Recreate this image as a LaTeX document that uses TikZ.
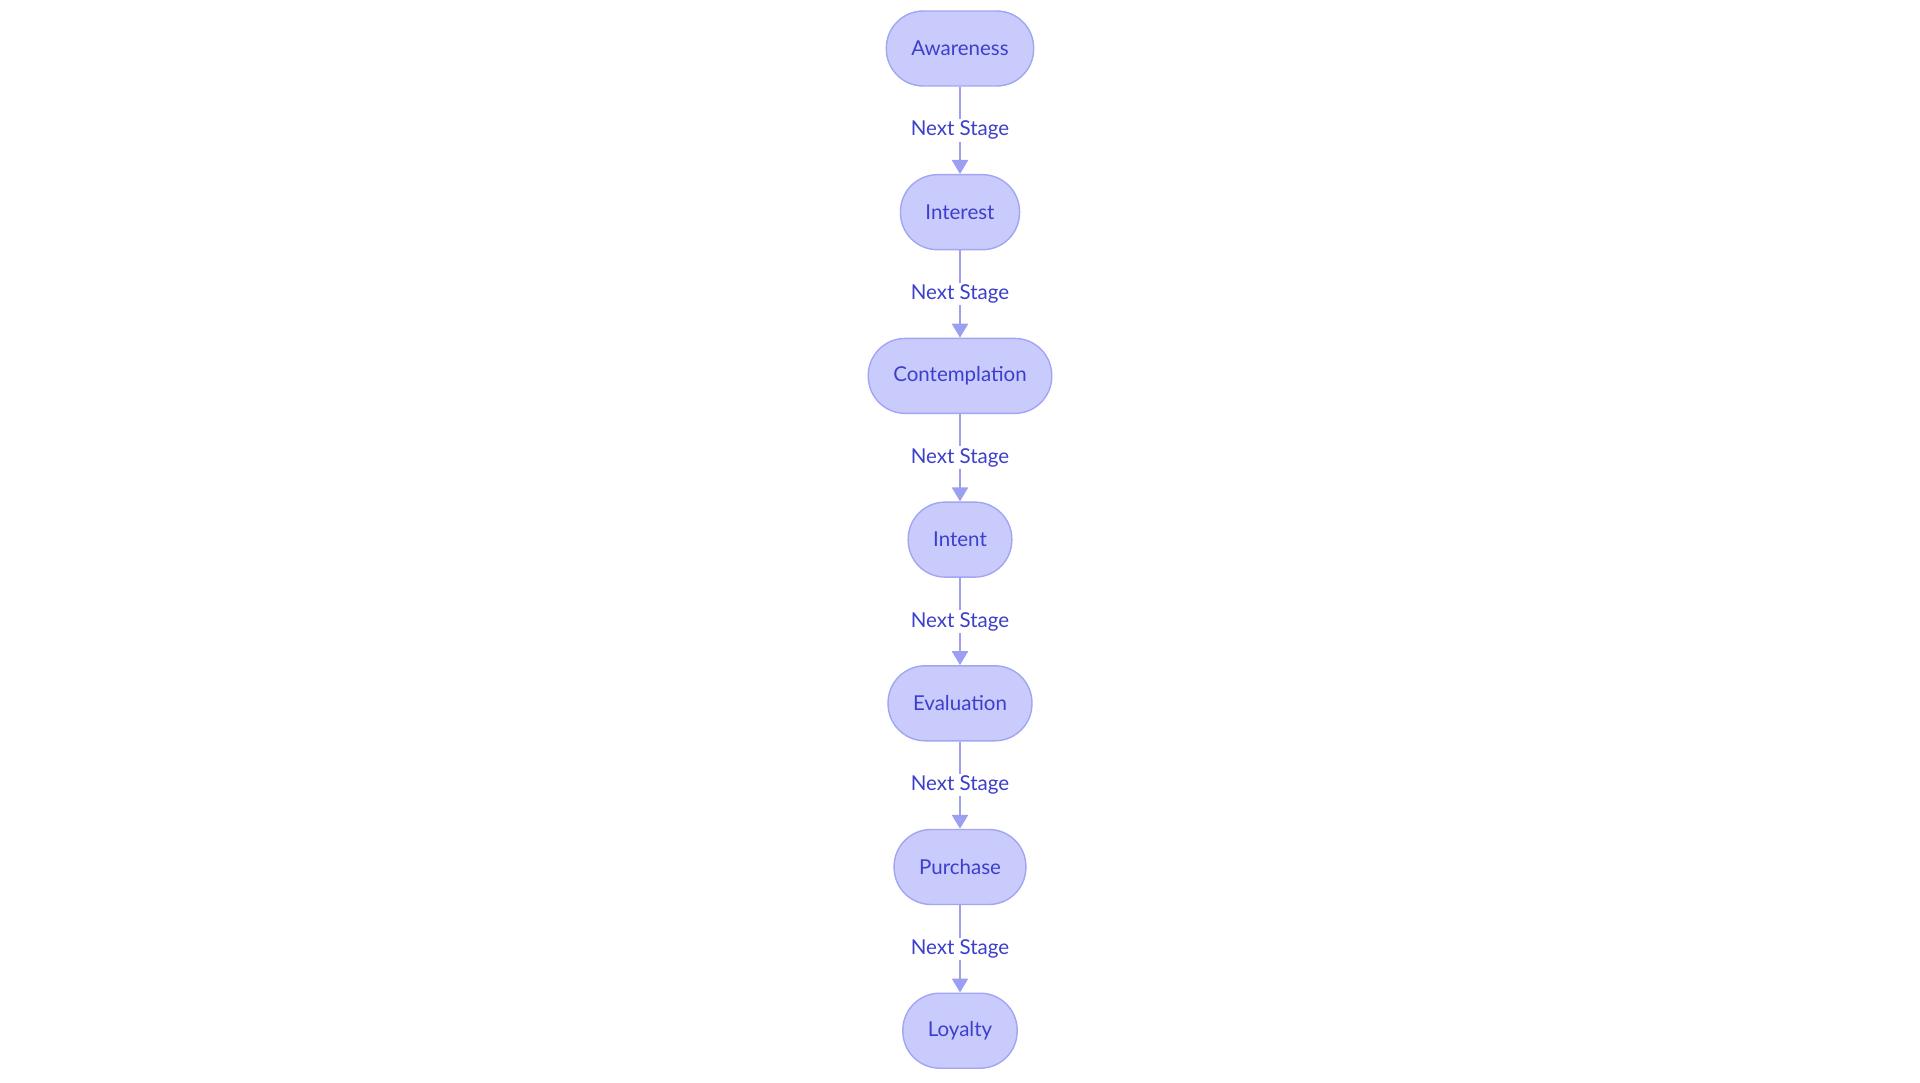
\documentclass[tikz,border=0pt]{standalone}
\usepackage{fontspec}
\setmainfont{Lato}
\usetikzlibrary{positioning,arrows.meta}
\definecolor{stagefill}{HTML}{C9CBFC}
\definecolor{stageline}{HTML}{A2A5F2}
\definecolor{stagetext}{HTML}{3C3FCB}
\definecolor{nextline}{HTML}{9C9EF2}

\begin{document}
\begin{tikzpicture}[x=1pt,y=1pt,
    stage/.style={draw=stageline, fill=stagefill, line width=1.4pt, rounded corners=37pt,
        minimum height=75pt, inner xsep=25pt, text=stagetext, font=\fontsize{20.5}{24}\selectfont},
    next/.style={draw=nextline, line width=2.4pt, -{Triangle[length=14pt,width=16pt]}},
    nextlabel/.style={fill=white, text=stagetext, inner xsep=1pt, inner ysep=2pt, font=\fontsize{20.5}{24}\selectfont}]
    \useasboundingbox (0,0) rectangle (1920,-1083);
    % customer journey stages, top to bottom
    \node[stage] (awareness) at (960,-48.5) {Awareness};
    \node[stage, below=87.3pt of awareness] (interest) {Interest};
    \node[stage, below=87.3pt of interest] (contemplation) {Contemplation};
    \node[stage, below=87.3pt of contemplation] (intent) {Intent};
    \node[stage, below=87.3pt of intent] (evaluation) {Evaluation};
    \node[stage, below=87.3pt of evaluation] (purchase) {Purchase};
    \node[stage, below=87.3pt of purchase] (loyalty) {Loyalty};
    \foreach \from/\to in {awareness/interest, interest/contemplation, contemplation/intent,
        intent/evaluation, evaluation/purchase, purchase/loyalty}
        \draw[next] (\from) -- node[nextlabel] {Next Stage} (\to);
\end{tikzpicture}
\end{document}
